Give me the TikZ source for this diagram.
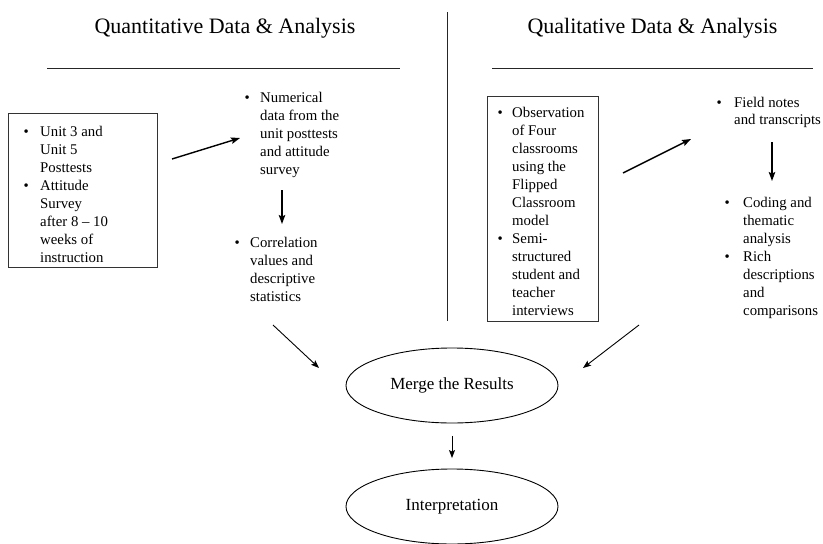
\documentclass[tikz,border=0pt]{standalone}
\usepackage{fontspec}
\setmainfont{Liberation Serif}
\usetikzlibrary{arrows.meta,shapes.geometric}
\newcommand{\bl}[1]{\llap{\textbullet\hspace{#1pt}}}
\begin{document}
\begin{tikzpicture}[x=1pt,y=-1pt,
  body/.style={inner sep=0pt, anchor=base west, font=\fontsize{14.8}{18}\selectfont},
  title/.style={inner sep=0pt, anchor=base, font=\fontsize{22}{26}\selectfont},
  frame/.style={draw=black!80, line width=0.9pt, inner sep=0pt, anchor=north west},
  rule/.style={draw=black!85, line width=0.9pt},
  bigarr/.style={draw=black, line width=1.4pt, -{Stealth[length=9pt,width=6.5pt,inset=1.5pt]}},
  smallarr/.style={draw=black, line width=0.9pt, -{Stealth[length=8pt,width=6pt,inset=1.5pt]}},
  oval/.style={ellipse, draw=black, line width=0.9pt, minimum width=212pt, minimum height=75pt, inner sep=0pt, font=\fontsize{17}{20}\selectfont}
]
\useasboundingbox (0,0) rectangle (823,544);

% titles and rules
\node[title] (tq) at (225,33) {Quantitative Data \& Analysis};
\node[title] (tl) at (652.5,33) {Qualitative Data \& Analysis};
\coordinate (lq1) at (47,68); \coordinate (lq2) at (400,68);
\coordinate (lr1) at (492,68); \coordinate (lr2) at (813,68);
\coordinate (v1) at (447,12); \coordinate (v2) at (447,321);
\draw[rule] (lq1) -- (lq2);
\draw[rule] (lr1) -- (lr2);
\draw[rule] (v1) -- (v2);

% left box
\node[frame, minimum width=149pt, minimum height=154pt] (qbox) at (8,113) {};
\node[body] (qtext) at (40,136.5) {\begin{tabular}[t]{@{}l@{}}
\bl{11.4}Unit 3 and\\ Unit 5\\ Posttests\\ \bl{11.4}Attitude\\ Survey\\ after 8 – 10\\ weeks of\\ instruction\end{tabular}};

% numerical data
\node[body] (num) at (260,102.5) {\begin{tabular}[t]{@{}l@{}}
\bl{10.4}Numerical\\ data from the\\ unit posttests\\ and attitude\\ survey\end{tabular}};

% correlation
\node[body] (corr) at (250,247.5) {\begin{tabular}[t]{@{}l@{}}
\bl{10.4}Correlation\\ values and\\ descriptive\\ statistics\end{tabular}};

% right box
\node[frame, minimum width=111pt, minimum height=225pt] (rbox) at (487,96) {};
\node[body] (rtext) at (512,117.5) {\begin{tabular}[t]{@{}l@{}}
\bl{9.4}Observation\\ of Four\\ classrooms\\ using the\\ Flipped\\ Classroom\\ model\\ \bl{9.4}Semi-\\ structured\\ student and\\ teacher\\ interviews\end{tabular}};

% field notes
\node[body, font=\fontsize{14.8}{17}\selectfont] (field) at (734,107.5) {\begin{tabular}[t]{@{}l@{}}
\bl{12.4}Field notes\\ and transcripts\end{tabular}};

% coding
\node[body] (coding) at (743,207.5) {\begin{tabular}[t]{@{}l@{}}
\bl{13.4}Coding and\\ thematic\\ analysis\\ \bl{13.4}Rich\\ descriptions\\ and\\ comparisons\end{tabular}};

% ellipses
\node[oval] (merge) at (452,385.5) {Merge the Results};
\node[oval] (interp) at (452,506.5) {Interpretation};

% arrows
\coordinate (a1s) at (172,159); \coordinate (a1e) at (240,138);
\coordinate (a2s) at (282,190); \coordinate (a2e) at (282,224);
\coordinate (a3s) at (623,173); \coordinate (a3e) at (691,139);
\coordinate (a4s) at (772,142); \coordinate (a4e) at (772,181);
\coordinate (a5s) at (273,325); \coordinate (a5e) at (319,368);
\coordinate (a6s) at (639,325); \coordinate (a6e) at (583,368);
\draw[bigarr] (a1s) -- (a1e);
\draw[bigarr] (a2s) -- (a2e);
\draw[bigarr] (a3s) -- (a3e);
\draw[bigarr] (a4s) -- (a4e);
\draw[smallarr] (a5s) -- (a5e);
\draw[smallarr] (a6s) -- (a6e);
\draw[smallarr, shorten <=12.5pt, shorten >=10.5pt] (merge) -- (interp);
\end{tikzpicture}
\end{document}
